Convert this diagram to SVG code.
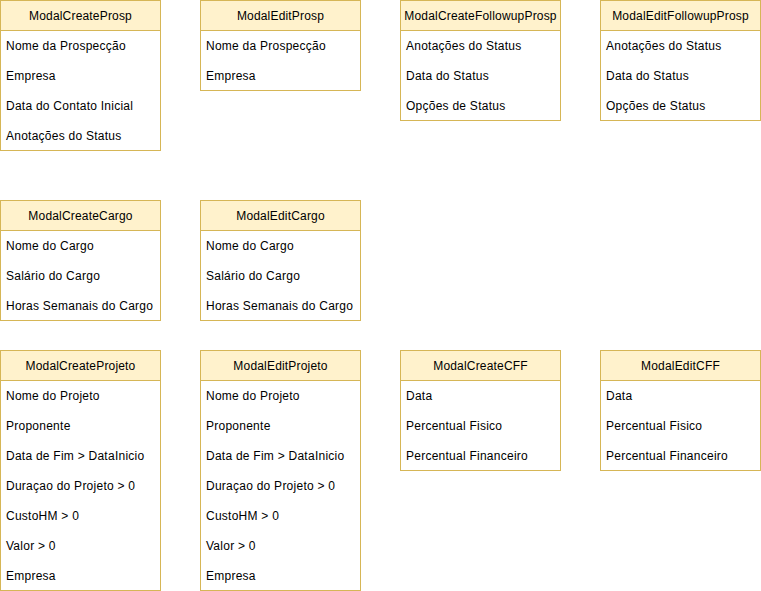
<svg xmlns="http://www.w3.org/2000/svg" width="761" height="591" viewBox="0 0 761 591">
<style>
.box{fill:#ffffff;stroke:#d6b656;stroke-width:1}
.hdr{fill:#fff2cc;stroke:#d6b656;stroke-width:1}
text{font-family:"Liberation Sans",Arial,Helvetica,sans-serif;font-size:12px;fill:#000000;letter-spacing:0.25px}
.t{text-anchor:middle;letter-spacing:0.18px}
</style>
<rect width="761" height="591" fill="#ffffff"/>
<g id="ModalCreateProsp">
<rect class="box" x="0.5" y="0.5" width="160" height="150"/>
<rect class="hdr" x="0.5" y="0.5" width="160" height="30"/>
<text class="t" x="80.5" y="20">ModalCreateProsp</text>
<text x="6" y="50">Nome da Prospecção</text>
<text x="6" y="80">Empresa</text>
<text x="6" y="110">Data do Contato Inicial</text>
<text x="6" y="140">Anotações do Status</text>
</g>
<g id="ModalEditProsp">
<rect class="box" x="200.5" y="0.5" width="160" height="90"/>
<rect class="hdr" x="200.5" y="0.5" width="160" height="30"/>
<text class="t" x="280.5" y="20">ModalEditProsp</text>
<text x="206" y="50">Nome da Prospecção</text>
<text x="206" y="80">Empresa</text>
</g>
<g id="ModalCreateFollowupProsp">
<rect class="box" x="400.5" y="0.5" width="160" height="120"/>
<rect class="hdr" x="400.5" y="0.5" width="160" height="30"/>
<text class="t" x="480.5" y="20">ModalCreateFollowupProsp</text>
<text x="406" y="50">Anotações do Status</text>
<text x="406" y="80">Data do Status</text>
<text x="406" y="110">Opções de Status</text>
</g>
<g id="ModalEditFollowupProsp">
<rect class="box" x="600.5" y="0.5" width="160" height="120"/>
<rect class="hdr" x="600.5" y="0.5" width="160" height="30"/>
<text class="t" x="680.5" y="20">ModalEditFollowupProsp</text>
<text x="606" y="50">Anotações do Status</text>
<text x="606" y="80">Data do Status</text>
<text x="606" y="110">Opções de Status</text>
</g>
<g id="ModalCreateCargo">
<rect class="box" x="0.5" y="200.5" width="160" height="120"/>
<rect class="hdr" x="0.5" y="200.5" width="160" height="30"/>
<text class="t" x="80.5" y="220">ModalCreateCargo</text>
<text x="6" y="250">Nome do Cargo</text>
<text x="6" y="280">Salário do Cargo</text>
<text x="6" y="310">Horas Semanais do Cargo</text>
</g>
<g id="ModalEditCargo">
<rect class="box" x="200.5" y="200.5" width="160" height="120"/>
<rect class="hdr" x="200.5" y="200.5" width="160" height="30"/>
<text class="t" x="280.5" y="220">ModalEditCargo</text>
<text x="206" y="250">Nome do Cargo</text>
<text x="206" y="280">Salário do Cargo</text>
<text x="206" y="310">Horas Semanais do Cargo</text>
</g>
<g id="ModalCreateProjeto">
<rect class="box" x="0.5" y="350.5" width="160" height="240"/>
<rect class="hdr" x="0.5" y="350.5" width="160" height="30"/>
<text class="t" x="80.5" y="370">ModalCreateProjeto</text>
<text x="6" y="400">Nome do Projeto</text>
<text x="6" y="430">Proponente</text>
<text x="6" y="460">Data de Fim &gt; DataInicio</text>
<text x="6" y="490">Duraçao do Projeto &gt; 0</text>
<text x="6" y="520">CustoHM &gt; 0</text>
<text x="6" y="550">Valor &gt; 0</text>
<text x="6" y="580">Empresa</text>
</g>
<g id="ModalEditProjeto">
<rect class="box" x="200.5" y="350.5" width="160" height="240"/>
<rect class="hdr" x="200.5" y="350.5" width="160" height="30"/>
<text class="t" x="280.5" y="370">ModalEditProjeto</text>
<text x="206" y="400">Nome do Projeto</text>
<text x="206" y="430">Proponente</text>
<text x="206" y="460">Data de Fim &gt; DataInicio</text>
<text x="206" y="490">Duraçao do Projeto &gt; 0</text>
<text x="206" y="520">CustoHM &gt; 0</text>
<text x="206" y="550">Valor &gt; 0</text>
<text x="206" y="580">Empresa</text>
</g>
<g id="ModalCreateCFF">
<rect class="box" x="400.5" y="350.5" width="160" height="120"/>
<rect class="hdr" x="400.5" y="350.5" width="160" height="30"/>
<text class="t" x="480.5" y="370">ModalCreateCFF</text>
<text x="406" y="400">Data</text>
<text x="406" y="430">Percentual Fisico</text>
<text x="406" y="460">Percentual Financeiro</text>
</g>
<g id="ModalEditCFF">
<rect class="box" x="600.5" y="350.5" width="160" height="120"/>
<rect class="hdr" x="600.5" y="350.5" width="160" height="30"/>
<text class="t" x="680.5" y="370">ModalEditCFF</text>
<text x="606" y="400">Data</text>
<text x="606" y="430">Percentual Fisico</text>
<text x="606" y="460">Percentual Financeiro</text>
</g>
<g id="connectors"></g>
</svg>
